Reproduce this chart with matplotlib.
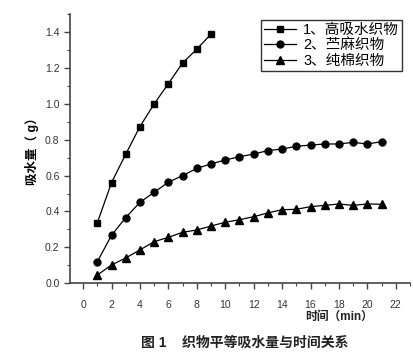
import matplotlib
matplotlib.use('Agg')
import matplotlib.pyplot as plt
from matplotlib.ticker import MultipleLocator

plt.rcParams['font.family'] = ['Liberation Sans', 'Noto Sans CJK SC']

# 数据
t1 = [1, 2, 3, 4, 5, 6, 7, 8, 9]
gaoxishui = [0.336, 0.561, 0.719, 0.873, 0.999, 1.112, 1.227, 1.304, 1.388]
t = list(range(1, 22))
zhuma = [0.12, 0.267, 0.366, 0.451, 0.507, 0.563, 0.600, 0.640, 0.665, 0.687, 0.705,
         0.720, 0.739, 0.748, 0.763, 0.770, 0.776, 0.776, 0.785, 0.776, 0.789]
chunmian = [0.046, 0.102, 0.141, 0.186, 0.232, 0.256, 0.284, 0.297, 0.319, 0.340, 0.354,
            0.371, 0.392, 0.410, 0.412, 0.427, 0.434, 0.442, 0.434, 0.442, 0.440]
labels = ['1、高吸水织物', '2、苎麻织物', '3、纯棉织物']

fig = plt.figure(figsize=(4.13, 3.64), dpi=100)
ax = fig.add_axes([70/413, 1 - 283.3/364, (410-70)/413, (283.3-14)/364])

ax.plot(t1, gaoxishui, '-s', color='black', lw=0.9, ms=5, label=labels[0])
ax.plot(t, zhuma, '-o', color='black', lw=0.9, ms=5, label=labels[1])
ax.plot(t, chunmian, '-^', color='black', lw=0.9, ms=6, label=labels[2])

ax.set_xlim(-0.92, 23)
ax.set_ylim(0, 1.5)
ax.xaxis.set_major_locator(MultipleLocator(2))
ax.xaxis.set_minor_locator(MultipleLocator(1))
ax.yaxis.set_major_locator(MultipleLocator(0.2))
ax.yaxis.set_minor_locator(MultipleLocator(0.1))
ax.yaxis.set_major_formatter(plt.FormatStrFormatter('%.1f'))
ax.spines['top'].set_visible(False)
ax.spines['right'].set_visible(False)
for s in ['left', 'bottom']:
    ax.spines[s].set_color('#444444')
    ax.spines[s].set_linewidth(1.2)
ax.tick_params(which='major', direction='out', length=4, width=1, colors='#444444',
               labelsize=7.5, labelcolor='#333333')
ax.tick_params(which='minor', direction='out', length=2.5, width=0.8, colors='#444444')
ax.tick_params(axis='x', pad=8)

ax.set_ylabel('吸水量（ g）', fontsize=9, fontweight='bold', labelpad=4)
fig.text(305/413, 1 - 317/364, '时间（min）', fontsize=8.5, fontweight='bold',
         ha='left', va='center', color='#222222')
fig.text(245/413, 1 - 343/364, '图 1    织物平等吸水量与时间关系', fontsize=10,
         fontweight='bold', ha='center', va='center', color='#222222')

leg = ax.legend(loc='upper right', bbox_to_anchor=(402/413, 1 - 20/364),
                bbox_transform=fig.transFigure, fontsize=10.5, frameon=True,
                fancybox=False, edgecolor='black', handlelength=2.2,
                borderpad=0.2, labelspacing=0.1, handletextpad=0.5, borderaxespad=0)
leg.get_frame().set_linewidth(1.0)

fig.savefig('out.png', dpi=100)
